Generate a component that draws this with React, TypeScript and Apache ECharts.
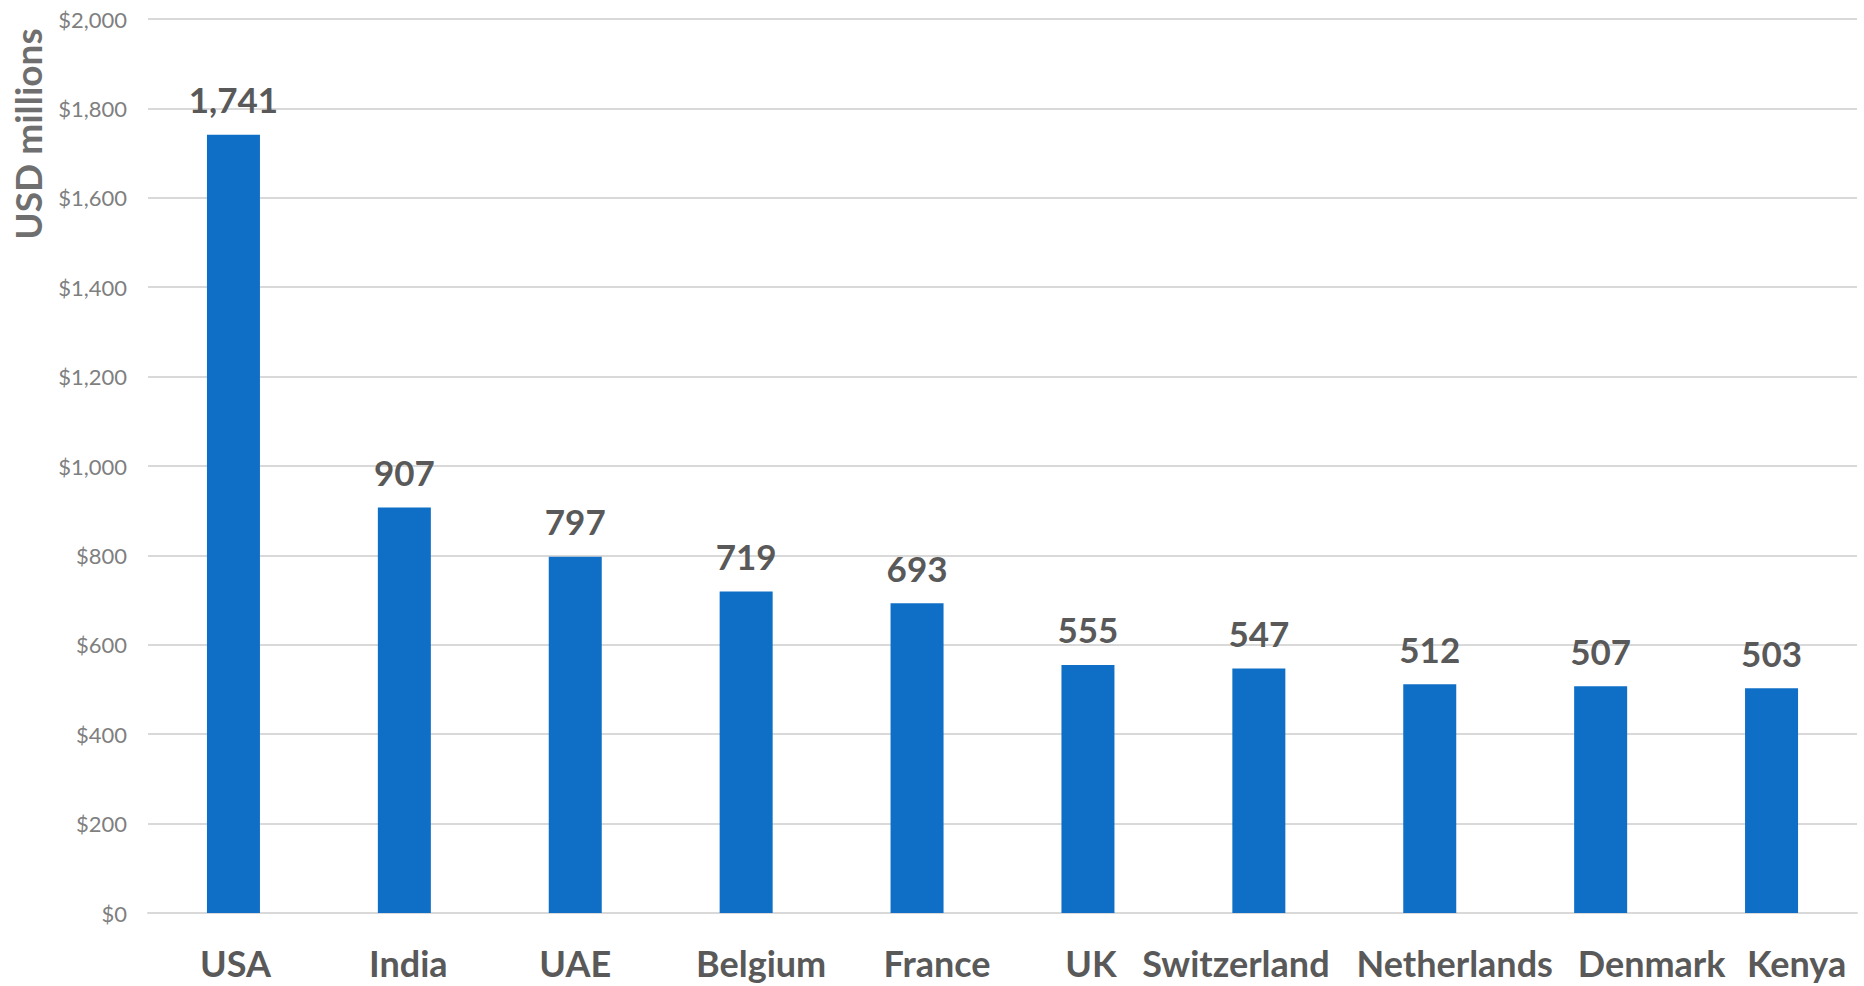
import React, { useEffect, useRef } from "react";
import * as echarts from "echarts";

const categories = ["USA", "India", "UAE", "Belgium", "France", "UK", "Switzerland", "Netherlands", "Denmark", "Kenya"];
const values = [1741, 907, 797, 719, 693, 555, 547, 512, 507, 503];
const yTicks = { min: 0, max: 2000, interval: 200 };
const axisTitle = "USD millions";
// horizontal shift (px) of each category label, as laid out in the reference
const labelShift = [2, 4, 0, 15, 20, 3, -23, 25, 51, 25];

const LABEL_FONT = "Lato, 'Noto Sans', sans-serif";

export default function App() {
  const ref = useRef<HTMLDivElement>(null);
  useEffect(() => {
    if (!ref.current) return;
    const chart = echarts.init(ref.current, undefined, { renderer: "svg" });
    const rich: Record<string, any> = {};
    labelShift.forEach((s, i) => {
      rich["l" + i] = {
        fontFamily: LABEL_FONT,
        fontWeight: "bold",
        fontSize: 36,
        lineHeight: 36,
        color: "#595959",
        padding: s >= 0 ? [0, 0, 0, 2 * s] : [0, -2 * s, 0, 0],
      };
    });
    chart.setOption({
      animation: false,
      backgroundColor: "#ffffff",
      grid: { left: 148, right: 7, top: 19, bottom: 73, containLabel: false },
      xAxis: {
        type: "category",
        data: categories,
        axisLine: { show: true, lineStyle: { color: "#d9d9d9", width: 2 } },
        axisTick: { show: false },
        axisLabel: {
          interval: 0,
          margin: 32,
          fontFamily: LABEL_FONT,
          fontWeight: "bold",
          fontSize: 36,
          lineHeight: 36,
          color: "#595959",
          formatter: (v: string, i: number) => `{l${i}|${v}}`,
          rich,
        },
      },
      yAxis: {
        type: "value",
        min: yTicks.min,
        max: yTicks.max,
        interval: yTicks.interval,
        axisLine: { show: false },
        axisTick: { show: false },
        splitLine: { lineStyle: { color: "#d9d9d9", width: 2 } },
        axisLabel: {
          margin: 21,
          fontFamily: LABEL_FONT,
          fontSize: 22,
          color: "#7f7f7f",
          formatter: (v: number) => "$" + v.toLocaleString("en-US"),
        },
      },
      graphic: [
        {
          type: "text",
          x: 27,
          y: 134,
          rotation: Math.PI / 2,
          style: {
            text: axisTitle,
            fontFamily: LABEL_FONT,
            fontWeight: "bold",
            fontSize: 37,
            fill: "#6f6f6f",
            align: "center",
            verticalAlign: "middle",
          },
        },
      ],
      series: [
        {
          type: "bar",
          data: values,
          barWidth: 53,
          itemStyle: { color: "#0F6FC6" },
          label: {
            show: true,
            position: "top",
            distance: 18,
            fontFamily: LABEL_FONT,
            fontWeight: "bold",
            fontSize: 35,
            color: "#595959",
            formatter: (p: any) => Number(p.value).toLocaleString("en-US"),
          },
        },
      ],
    });
    return () => chart.dispose();
  }, []);
  return (
    <div
      ref={ref}
      style={{ position: "fixed", left: 0, top: 0, width: 1864, height: 986 }}
    />
  );
}
